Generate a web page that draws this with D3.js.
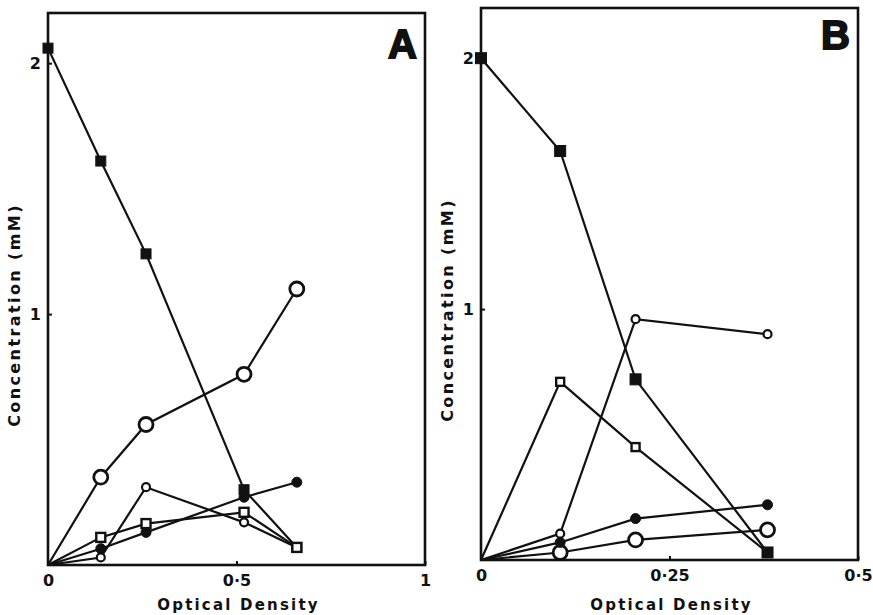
<!DOCTYPE html>
<html>
<head>
<meta charset="utf-8">
<script src="https://cdn.jsdelivr.net/npm/d3@7/dist/d3.min.js"></script>
<style>
  html, body { margin: 0; padding: 0; background: #fff; }
  svg { display: block; }
  text { font-family: "DejaVu Sans", "Liberation Sans", sans-serif; font-weight: bold; fill: #111; }
</style>
</head>
<body>
<svg id="chart" width="873" height="615"></svg>
<script>
// ---------- DATA ----------
// Panel A
const odA = [0, 0.14, 0.26, 0.52, 0.66];
const filledSquareA = [2.06, 1.61, 1.24, 0.30, 0.07];
const largeCircleA  = [0, 0.35, 0.56, 0.76, 1.10];
const smallCircleA  = [0, 0.03, 0.31, 0.17, 0.07];
const openSquareA   = [0, 0.11, 0.165, 0.21, 0.07];
const filledCircleA = [0, 0.065, 0.13, 0.27, 0.33];
const xTicksA = [0, 0.5, 1];
const xTickLabelsA = ["0", "0\u00b75", "1"];

// Panel B
const odB = [0, 0.105, 0.205, 0.38];
const filledSquareB = [2.0, 1.63, 0.72, 0.03];
const smallCircleB  = [0, 0.105, 0.96, 0.90];
const openSquareB   = [0, 0.71, 0.45, 0.03];
const filledCircleB = [0, 0.07, 0.165, 0.22];
const largeCircleB  = [0, 0.03, 0.08, 0.12];
const xTicksB = [0, 0.25, 0.5];
const xTickLabelsB = ["0", "0\u00b725", "0\u00b75"];

const yTicks = [1, 2];
const yTickLabels = ["1", "2"];
const xTitle = "Optical  Density";
const yTitle = "Concentration  (mM)";

// ---------- DRAW ----------
const svg = d3.select("#chart");

function panel(cfg) {
  const x = d3.scaleLinear().domain(cfg.xDomain).range([cfg.left, cfg.right]);
  const y = d3.scaleLinear().domain([0, 2.2]).range([cfg.bottom, cfg.top]);
  const g = svg.append("g");

  // frame
  g.append("rect")
    .attr("x", cfg.left).attr("y", cfg.top)
    .attr("width", cfg.right - cfg.left).attr("height", cfg.bottom - cfg.top)
    .attr("fill", "none").attr("stroke", "#111").attr("stroke-width", 2.6);

  // x axis ticks & labels
  const xAxis = d3.axisBottom(x).tickValues(cfg.xTicks)
    .tickFormat((d, i) => cfg.xTickLabels[i]).tickSizeInner(-4).tickSizeOuter(0).tickPadding(10);
  const gx = g.append("g").attr("transform", `translate(0,${cfg.bottom})`).call(xAxis);
  gx.select(".domain").remove();
  gx.selectAll("line").attr("stroke", "#111").attr("stroke-width", 2);
  gx.selectAll("text").style("font-size", "16px").style("font-family", "DejaVu Sans, sans-serif")
    .style("font-weight", "bold").attr("fill", "#111");

  // y axis ticks & labels
  const yAxis = d3.axisLeft(y).tickValues(yTicks)
    .tickFormat((d, i) => yTickLabels[i]).tickSizeInner(-4).tickSizeOuter(0).tickPadding(7);
  const gy = g.append("g").attr("transform", `translate(${cfg.left},0)`).call(yAxis);
  gy.select(".domain").remove();
  gy.selectAll("line").attr("stroke", "#111").attr("stroke-width", 2);
  gy.selectAll("text").style("font-size", "16px").style("font-family", "DejaVu Sans, sans-serif")
    .style("font-weight", "bold").attr("fill", "#111");

  // titles
  g.append("text")
    .attr("x", (cfg.left + cfg.right) / 2 + 2).attr("y", 610)
    .attr("text-anchor", "middle").style("font-size", "15px").style("letter-spacing", "2.2px")
    .text(xTitle);
  g.append("text")
    .attr("transform", `translate(${cfg.left - 28},${(cfg.top + cfg.bottom) / 2 + 26}) rotate(-90)`)
    .attr("text-anchor", "middle").style("font-size", "16px").style("letter-spacing", "2.4px")
    .text(yTitle);

  // panel letter
  g.append("text")
    .attr("x", cfg.right - 8).attr("y", cfg.top + cfg.letterDy)
    .attr("text-anchor", "end")
    .style("font-family", "Liberation Sans, Arial, sans-serif").style("font-weight", "900")
    .style("font-size", "40px").attr("stroke", "#111").attr("stroke-width", 1.8)
    .text(cfg.letter);

  const line = d3.line().x(d => x(d[0])).y(d => y(d[1]));

  cfg.series.forEach(s => {
    const pts = cfg.od.map((v, i) => [v, s.values[i]]);
    g.append("path").datum(pts).attr("d", line)
      .attr("fill", "none").attr("stroke", "#111").attr("stroke-width", 2.2);
  });

  cfg.series.forEach(s => {
    const pts = cfg.od.map((v, i) => [v, s.values[i]]).filter((p, i) => i > 0 || s.markFirst);
    const mg = g.append("g");
    pts.forEach(p => {
      const cx = x(p[0]), cy = y(p[1]);
      if (s.shape === "square") {
        mg.append("rect").attr("x", cx - s.size / 2).attr("y", cy - s.size / 2)
          .attr("width", s.size).attr("height", s.size)
          .attr("fill", s.filled ? "#111" : "#fff").attr("stroke", "#111").attr("stroke-width", s.filled ? 1 : 2.4);
      } else {
        mg.append("circle").attr("cx", cx).attr("cy", cy).attr("r", s.size / 2)
          .attr("fill", s.filled ? "#111" : "#fff").attr("stroke", "#111").attr("stroke-width", s.filled ? 1 : (s.size > 10 ? 2.8 : 2.2));
      }
    });
  });
}

panel({
  letter: "A", left: 48, right: 425, top: 13, bottom: 565, xDomain: [0, 1], letterDy: 45,
  xTicks: xTicksA, xTickLabels: xTickLabelsA, od: odA,
  series: [
    { values: largeCircleA, shape: "circle", size: 14, filled: false },
    { values: smallCircleA, shape: "circle", size: 8, filled: false },
    { values: filledCircleA, shape: "circle", size: 10, filled: true },
    { values: filledSquareA, shape: "square", size: 10, filled: true, markFirst: true },
    { values: openSquareA, shape: "square", size: 9, filled: false }
  ]
});

panel({
  letter: "B", left: 481, right: 858, top: 8, bottom: 560, xDomain: [0, 0.5], letterDy: 41,
  xTicks: xTicksB, xTickLabels: xTickLabelsB, od: odB,
  series: [
    { values: largeCircleB, shape: "circle", size: 14, filled: false },
    { values: smallCircleB, shape: "circle", size: 8, filled: false },
    { values: filledCircleB, shape: "circle", size: 10, filled: true },
    { values: openSquareB, shape: "square", size: 8, filled: false },
    { values: filledSquareB, shape: "square", size: 11, filled: true, markFirst: true }
  ]
});
</script>
</body>
</html>
